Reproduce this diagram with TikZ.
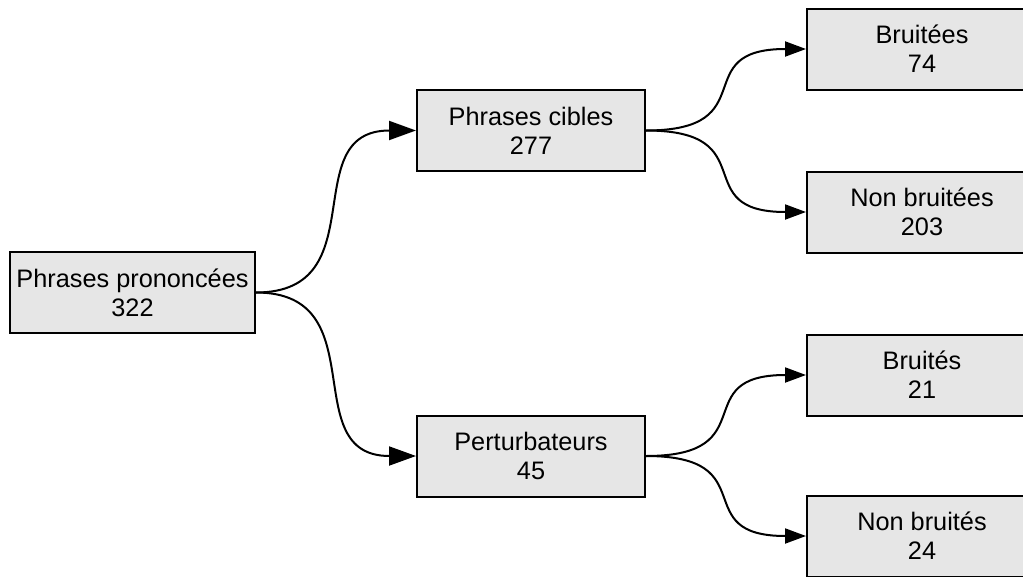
\documentclass[tikz,border=0pt]{standalone}
\usepackage{fontspec}
\setmainfont{Liberation Sans}
\usetikzlibrary{arrows.meta,calc}
\definecolor{boxfill}{RGB}{230,230,230}
\tikzset{
  box/.style={draw=black, line width=2pt, fill=boxfill, rectangle, inner sep=0pt,
    minimum height=81pt, align=center, font=\fontsize{25.3}{29}\selectfont},
  midbox/.style={box, minimum width=228pt},
  leafbox/.style={box, minimum width=230pt},
  link/.style={line width=2pt},
  bigtip/.style={-{Triangle[length=27pt,width=19pt]}},
  smalltip/.style={-{Triangle[length=21pt,width=15pt]}},
}
\begin{document}
\begin{tikzpicture}[x=1pt,y=-1pt]
\useasboundingbox (0,0) rectangle (1023,576);
\clip (0,0) rectangle (1023,576);
\node[box, minimum width=245pt] (root) at (132.5,292.5) {Phrases prononcées\\322};
\node[midbox] (cib) at (531,130.5) {Phrases cibles\\277};
\node[midbox] (per) at (531,456) {Perturbateurs\\45};
\node[leafbox] (b1) at (922,49) {Bruitées\\74};
\node[leafbox] (nb1) at (922,212) {Non bruitées\\203};
\node[leafbox] (b2) at (922,375) {Bruités\\21};
\node[leafbox] (nb2) at (922,536) {Non bruités\\24};

\draw[link,bigtip] (root.east) .. controls ($(root.east)+(121,0)$) and ($(cib.west)+(-121,0)$) .. (cib.west);
\draw[link,bigtip] (root.east) .. controls ($(root.east)+(121,0)$) and ($(per.west)+(-121,0)$) .. (per.west);
\draw[link,smalltip] (cib.east) .. controls ($(cib.east)+(120,0)$) and ($(b1.west)+(-120,0)$) .. (b1.west);
\draw[link,smalltip] (cib.east) .. controls ($(cib.east)+(120,0)$) and ($(nb1.west)+(-120,0)$) .. (nb1.west);
\draw[link,smalltip] (per.east) .. controls ($(per.east)+(120,0)$) and ($(b2.west)+(-120,0)$) .. (b2.west);
\draw[link,smalltip] (per.east) .. controls ($(per.east)+(120,0)$) and ($(nb2.west)+(-120,0)$) .. (nb2.west);
\end{tikzpicture}
\end{document}
